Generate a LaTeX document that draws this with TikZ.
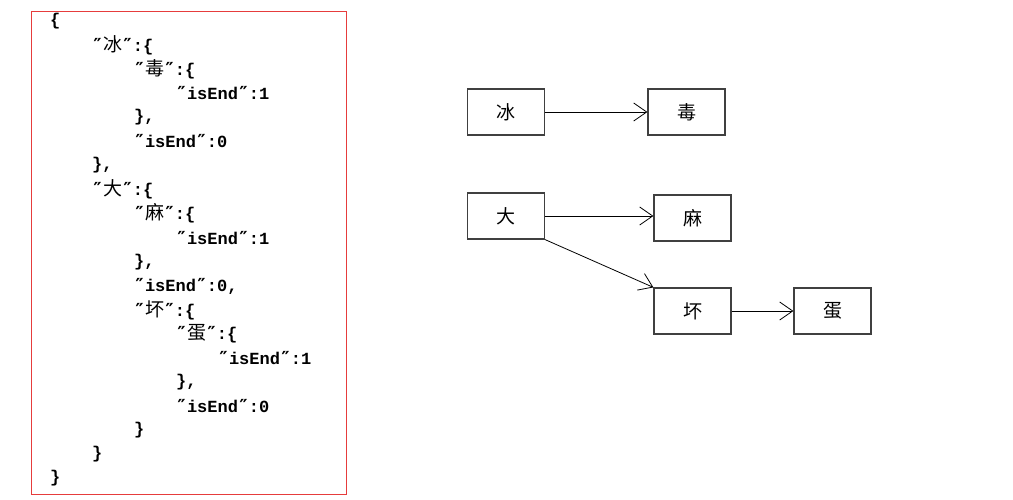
\documentclass[tikz,border=0pt]{standalone}
\usepackage{fontspec}
\setmainfont{Liberation Serif}
\setmonofont{Liberation Mono}
\newfontfamily\cjk{Noto Sans CJK SC}
\usetikzlibrary{arrows.meta}
\begin{document}
\begin{tikzpicture}[x=1pt,y=-1pt,
  codeline/.style={anchor=west,inner sep=0pt,font=\fontsize{17}{17}\ttfamily\bfseries},
  trienode/.style={draw=black!75,line width=1.2pt,minimum width=77pt,minimum height=46pt,inner sep=0pt,font=\fontsize{19}{19}\cjk},
  link/.style={line width=0.8pt,-{Straight Barb[length=13pt,width=18pt,line width=0.8pt]}}]
\useasboundingbox (0,0) rectangle (1013,499);
% code panel
\node[draw={rgb,255:red,230;green,60;blue,60},line width=1pt,minimum width=315pt,minimum height=483pt,inner sep=0pt,anchor=north west] (panel) at (31,11) {};
\newcommand{\cq}{{\fontspec{DejaVu Sans Mono}\fontsize{18}{18}\selectfont ″}}
\newcommand{\zh}[1]{{\fontsize{19}{19}\cjk\mdseries #1}}
\node[codeline] (l1) at (50,21) {\{};
\node[codeline] (l2) at (92,45) {\cq\zh{冰}\cq:\{};
\node[codeline] (l3) at (134,69) {\cq\zh{毒}\cq:\{};
\node[codeline] (l4) at (176,93) {\cq isEnd\cq:1};
\node[codeline] (l5) at (134,117) {\},};
\node[codeline] (l6) at (134,141) {\cq isEnd\cq:0};
\node[codeline] (l7) at (92,165) {\},};
\node[codeline] (l8) at (92,189) {\cq\zh{大}\cq:\{};
\node[codeline] (l9) at (134,213) {\cq\zh{麻}\cq:\{};
\node[codeline] (l10) at (176,238) {\cq isEnd\cq:1};
\node[codeline] (l11) at (134,262) {\},};
\node[codeline] (l12) at (134,286) {\cq isEnd\cq:0,};
\node[codeline] (l13) at (134,310) {\cq\zh{坏}\cq:\{};
\node[codeline] (l14) at (176,334) {\cq\zh{蛋}\cq:\{};
\node[codeline] (l15) at (218,358) {\cq isEnd\cq:1};
\node[codeline] (l16) at (176,382) {\},};
\node[codeline] (l17) at (176,406) {\cq isEnd\cq:0};
\node[codeline] (l18) at (134,430) {\}};
\node[codeline] (l19) at (92,454) {\}};
\node[codeline] (l20) at (50,478) {\}};
% trie diagram
\node[trienode] (bing) at (506,112) {冰};
\node[trienode] (du) at (686.5,112) {毒};
\node[trienode] (da) at (506,216) {大};
\node[trienode] (ma) at (692.5,218) {麻};
\node[trienode] (huai) at (692.5,311) {坏};
\node[trienode] (dan) at (832.5,311) {蛋};
\draw[link] (bing.east) -- (du.west);
\draw[link] (da.east) -- (ma.west |- da.east);
\draw[link] (da.south east) -- (huai.north west);
\draw[link] (huai.east) -- (dan.west);
\end{tikzpicture}
\end{document}
